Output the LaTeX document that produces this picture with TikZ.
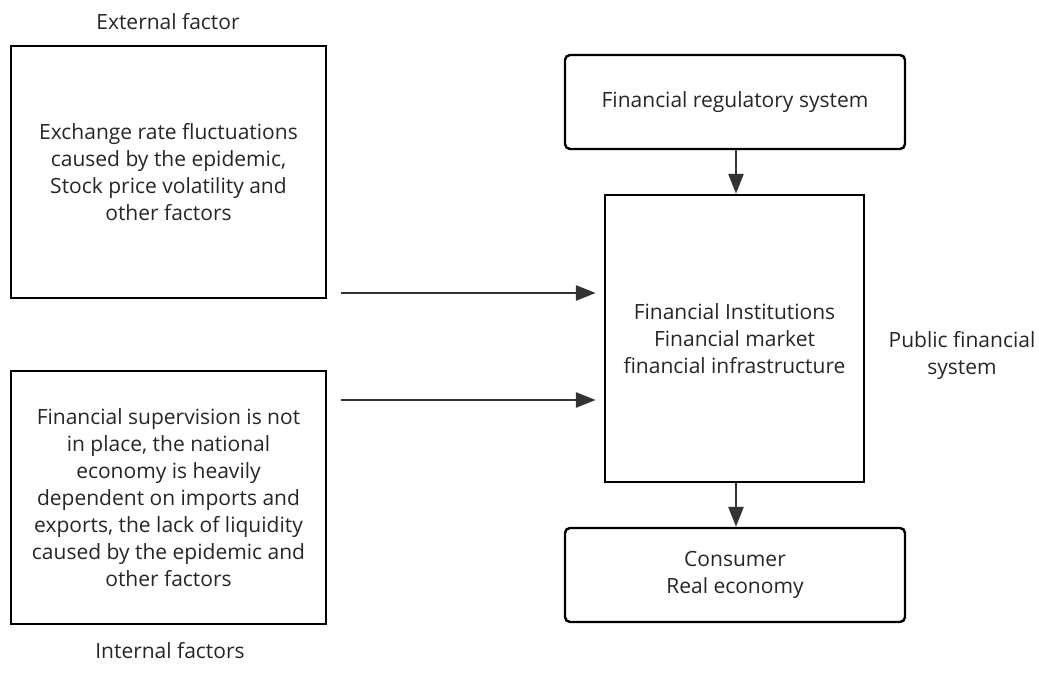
\documentclass[tikz,border=0pt]{standalone}
\usepackage{fontspec}
\setmainfont{Open Sans}
\usetikzlibrary{arrows.meta}
\begin{document}
\begin{tikzpicture}[x=1pt,y=-1pt,
  txt/.style={font=\fontsize{21}{27}\selectfont, text=black!85, align=center},
  sqbox/.style={draw=black, line width=2.4pt, txt, inner sep=0pt},
  rbox/.style={draw=black, line width=2.4pt, rounded corners=5pt, txt, inner sep=0pt},
  conn/.style={draw=black!80, line width=2.8pt, -{Triangle[length=20pt,width=15pt]}}]
\useasboundingbox (0,0) rectangle (1039,682);
\node[sqbox, minimum width=315pt, minimum height=252pt] (ext) at (168.5,172) {Exchange rate fluctuations\\caused by the epidemic,\\Stock price volatility and\\other factors};
\node[sqbox, minimum width=315pt, minimum height=253pt] (int) at (168.5,497.5) {Financial supervision is not\\in place, the national\\economy is heavily\\dependent on imports and\\exports, the lack of liquidity\\caused by the epidemic and\\other factors};
\node[txt] (extlab) at (168,22) {External factor};
\node[txt] (intlab) at (170,651) {Internal factors};
\node[rbox, minimum width=340pt, minimum height=94pt] (reg) at (735,102) {Financial regulatory system};
\node[sqbox, minimum width=259pt, minimum height=287pt] (fin) at (734.5,338.5) {Financial Institutions\\Financial market\\financial infrastructure};
\node[rbox, minimum width=340pt, minimum height=94pt] (con) at (735,575) {Consumer\\Real economy};
\node[txt] (pub) at (962,355) {Public financial\\system};
\coordinate (a1) at (341,293);
\coordinate (a2) at (341,400);
\draw[conn] (a1) -- ([xshift=-8pt]fin.west |- a1);
\draw[conn] (a2) -- ([xshift=-8pt]fin.west |- a2);
\draw[conn] (reg.south -| 736,0) -- (fin.north -| 736,0);
\draw[conn] (fin.south -| 736,0) -- (con.north -| 736,0);
\end{tikzpicture}
\end{document}
